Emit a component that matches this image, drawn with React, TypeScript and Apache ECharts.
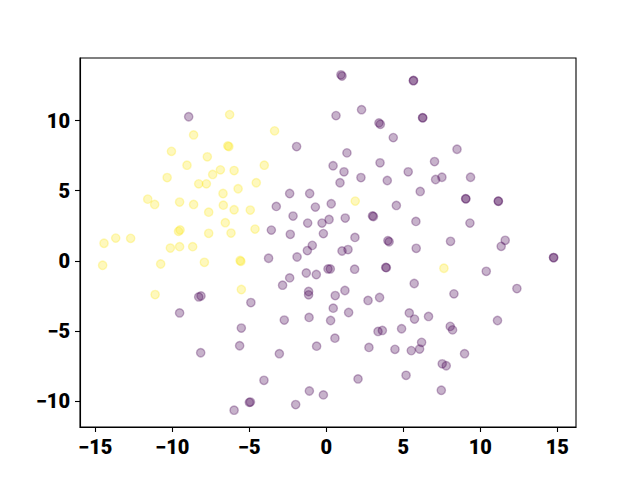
import React, { useEffect, useRef } from "react";
import * as echarts from "echarts";

const yellowPoints: [number, number][] = [
  [-6.28, 10.43], [-8.62, 8.98], [-10.06, 7.81], [-6.4, 8.2], [-6.33, 8.15],
  [-7.73, 7.42], [-9.05, 6.82], [-6.88, 6.49], [-7.38, 6.16], [-5.99, 6.44],
  [-10.34, 5.94], [-8.29, 5.49], [-7.79, 5.49], [-6.71, 4.8], [-5.73, 5.14],
  [-11.6, 4.4], [-11.15, 4.02], [-9.53, 4.19], [-8.62, 4.02], [-7.64, 3.47],
  [-6.69, 3.97], [-5.99, 3.64], [-4.94, 3.62], [-6.56, 2.72], [-9.6, 2.1],
  [-9.5, 2.2], [-7.64, 1.96], [-6.19, 1.98], [-13.68, 1.62], [-12.71, 1.6],
  [-14.44, 1.25], [-10.13, 0.91], [-9.53, 1.01], [-8.68, 1.01], [-14.53, -0.32],
  [-10.76, -0.23], [-7.92, -0.11], [-5.6, 0.02], [-5.55, -0.04], [-11.12, -2.41],
  [-5.52, -2.05], [-3.36, 9.27], [-4.03, 6.82], [-4.55, 5.57], [-4.63, 2.26],
  [1.88, 4.26], [7.64, -0.53],
];

const purplePoints: [number, number][] = [
  [-8.94, 10.28], [-8.29, -2.58], [-8.14, -2.51], [-9.53, -3.72], [-4.9, -2.98],
  [-5.52, -4.8], [-5.63, -6.06], [-8.16, -6.56], [-5.0, -10.1], [-4.93, -10.08],
  [-5.99, -10.66], [0.95, 13.27], [1.02, 13.18], [5.65, 12.85], [5.67, 12.87],
  [0.63, 10.36], [2.29, 10.78], [3.42, 9.84], [3.51, 9.74], [4.35, 8.79],
  [-1.93, 8.15], [1.34, 7.7], [0.44, 6.78], [1.15, 6.35], [3.49, 6.99],
  [2.25, 5.94], [0.89, 5.57], [3.96, 5.73], [5.32, 6.35], [-2.38, 4.8],
  [-1.08, 4.8], [-3.25, 3.88], [-0.71, 3.83], [0.32, 4.07], [-2.16, 3.19],
  [-1.21, 2.69], [-0.28, 2.69], [0.18, 2.95], [1.23, 3.05], [3.0, 3.2],
  [3.06, 3.16], [4.55, 3.95], [5.82, 2.81], [-3.57, 2.19], [-2.34, 1.89],
  [-0.19, 1.94], [1.86, 1.67], [4.0, 1.44], [4.08, 1.36], [-0.91, 1.1],
  [-1.23, 0.73], [-3.75, 0.18], [-1.9, 0.27], [1.02, 0.7], [1.41, 0.8],
  [5.84, 0.89], [-1.3, -0.87], [-0.65, -0.98], [0.11, -0.58], [0.26, -0.58],
  [1.84, -0.6], [3.86, -0.47], [3.9, -0.49], [5.71, -1.62], [-2.38, -1.22],
  [-2.84, -1.74], [-1.15, -2.19], [-1.15, -2.43], [0.58, -2.48], [1.21, -2.12],
  [2.71, -2.83], [3.46, -2.62], [0.45, -3.38], [1.45, -3.69], [5.39, -3.72],
  [-2.73, -4.23], [-1.12, -4.04], [0.28, -4.26], [3.36, -5.04], [3.64, -4.97],
  [4.89, -4.85], [5.73, -4.16], [0.56, -5.52], [-0.63, -6.09], [-3.05, -6.63],
  [2.77, -6.18], [4.46, -6.32], [5.52, -6.41], [-4.05, -8.53], [2.06, -8.43],
  [5.18, -8.17], [-1.1, -9.29], [-0.19, -9.57], [-1.99, -10.26], [6.25, 10.21],
  [6.27, 10.2], [8.49, 7.96], [7.03, 7.08], [7.1, 5.8], [7.51, 5.96],
  [9.37, 5.96], [6.1, 4.95], [9.05, 4.43], [9.07, 4.42], [11.17, 4.26],
  [11.18, 4.25], [9.33, 2.69], [8.07, 1.39], [11.62, 1.46], [11.36, 1.03],
  [14.76, 0.23], [14.77, 0.22], [10.39, -0.75], [8.29, -2.36], [12.38, -1.98],
  [6.64, -3.97], [8.05, -4.68], [8.2, -4.93], [6.19, -5.82], [6.06, -6.3],
  [8.98, -6.63], [7.53, -7.35], [7.79, -7.49], [7.47, -9.24], [11.12, -4.26],
];

const xTicks = [-15, -10, -5, 0, 5, 10, 15];
const yTicks = [-10, -5, 0, 5, 10];

const fmt = (v: number) => String(v).replace("-", "\u2212");

export default function App() {
  const ref = useRef<HTMLDivElement>(null);
  useEffect(() => {
    const chart = echarts.init(ref.current!, null, { renderer: "svg" });
    const labelStyle = {
      fontFamily: "Roboto",
      fontWeight: 900,
      fontSize: 20,
      color: "#000",
      formatter: (v: number) => fmt(v),
    };
    const axisCommon = {
      type: "value" as const,
      splitLine: { show: false },
      axisLine: { show: true, onZero: false, lineStyle: { color: "#000", width: 1.1 } },
      axisTick: { show: true, inside: false, length: 5, lineStyle: { color: "#000", width: 1.1 } },
    };
    const pointStyle = (hex: string) => ({
      color: hex,
      borderColor: hex,
      borderWidth: 1.39,
      opacity: 1,
    });
    chart.setOption({
      animation: false,
      backgroundColor: "#fff",
      grid: {
        show: true,
        left: 80,
        right: 64,
        top: 58,
        bottom: 53,
        borderColor: "#000",
        borderWidth: 1.1,
        backgroundColor: "transparent",
      },
      xAxis: {
        ...axisCommon,
        min: -16.0,
        max: 16.22,
        axisTick: { ...axisCommon.axisTick, customValues: xTicks },
        axisLabel: { ...labelStyle, margin: 10, customValues: xTicks },
      },
      yAxis: {
        ...axisCommon,
        min: -11.86,
        max: 14.47,
        axisTick: { ...axisCommon.axisTick, customValues: yTicks },
        axisLabel: { ...labelStyle, margin: 10, customValues: yTicks },
      },
      series: [
        {
          type: "scatter",
          data: purplePoints,
          symbol: "circle",
          symbolSize: 8.33,
          itemStyle: pointStyle("rgba(68,1,84,0.3)"),
          emphasis: { disabled: true },
          silent: true,
        },
        {
          type: "scatter",
          data: yellowPoints,
          symbol: "circle",
          symbolSize: 8.33,
          itemStyle: pointStyle("rgba(253,231,37,0.3)"),
          emphasis: { disabled: true },
          silent: true,
        },
      ],
    });
    return () => chart.dispose();
  }, []);
  return (
    <div
      ref={ref}
      style={{ position: "fixed", left: 0, top: 0, width: 640, height: 480, background: "#fff" }}
    />
  );
}
